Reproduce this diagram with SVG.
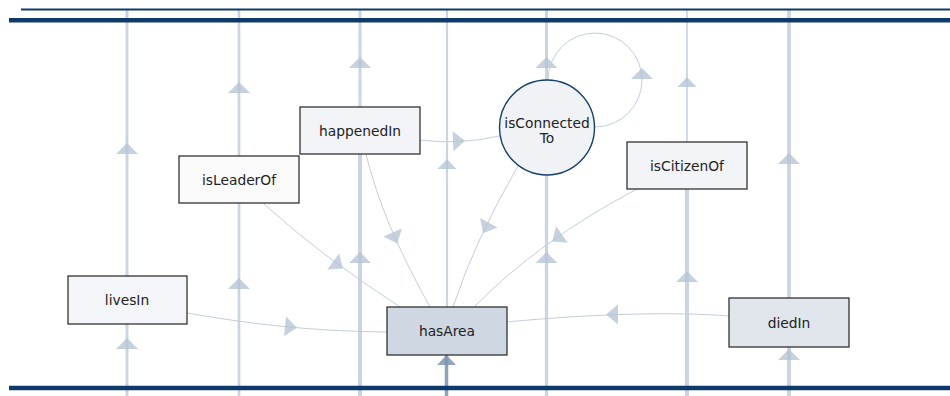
<svg xmlns="http://www.w3.org/2000/svg" xmlns:xlink="http://www.w3.org/1999/xlink" width="950" height="396" viewBox="0 0 950 396">
<style>
.vl{stroke:#cbd5e1;fill:none}
.vd{stroke:#8ea3bc;fill:none}
.tri{fill:#b3c2d3;fill-opacity:0.75}
.trid{fill:#7f96b1;fill-opacity:0.85}
.edge{stroke:#c3cedb;stroke-width:1;fill:none}
.node rect{stroke:#222;stroke-width:1.2}
.node text{font-family:"DejaVu Sans","Liberation Sans",sans-serif;font-size:13.8px;fill:#222;text-anchor:middle}
.bar{stroke:#0d3a6b}
</style>
<defs>
<path id="va" d="M0,0 L11,11 L-11,11 Z"/>
<path id="vs" d="M0,0 L9.5,10 L-9.5,10 Z"/>
<path id="ea" d="M6,0 L-6,-10 L-6,10 Z"/>
</defs>
<g id="lifelines">
<line class="vl" x1="127" y1="10" x2="127" y2="276" stroke-width="3"/>
<line class="vl" x1="127" y1="324" x2="127" y2="396" stroke-width="3"/>
<line class="vl" x1="239" y1="10" x2="239" y2="156" stroke-width="2.7"/>
<line class="vl" x1="239" y1="203" x2="239" y2="396" stroke-width="2.7"/>
<line class="vl" x1="360" y1="10" x2="360" y2="107" stroke-width="3"/>
<line class="vl" x1="360" y1="154" x2="360" y2="396" stroke-width="4"/>
<line class="vl" x1="447" y1="10" x2="447" y2="307" stroke-width="2.2"/>
<line class="vd" x1="446.5" y1="355" x2="446.5" y2="396" stroke-width="3.5"/>
<line class="vl" x1="546.5" y1="10" x2="546.5" y2="80" stroke-width="3"/>
<line class="vl" x1="546.5" y1="175" x2="546.5" y2="396" stroke-width="3.3"/>
<line class="vl" x1="687" y1="10" x2="687" y2="142" stroke-width="1.7"/>
<line class="vl" x1="687" y1="189" x2="687" y2="396" stroke-width="4"/>
<line class="vl" x1="789" y1="10" x2="789" y2="298" stroke-width="3.7"/>
<line class="vl" x1="789" y1="347" x2="789" y2="396" stroke-width="4"/>
<use href="#va" class="tri" x="127" y="143"/>
<use href="#va" class="tri" x="127" y="338"/>
<use href="#va" class="tri" x="239" y="82"/>
<use href="#va" class="tri" x="239" y="278"/>
<use href="#va" class="tri" x="360" y="57"/>
<use href="#va" class="tri" x="360" y="252"/>
<use href="#vs" class="tri" x="447" y="159"/>
<use href="#vs" class="trid" x="446.5" y="355"/>
<use href="#va" class="tri" x="546.5" y="57"/>
<use href="#va" class="tri" x="546.5" y="252"/>
<use href="#vs" class="tri" x="687" y="77"/>
<use href="#va" class="tri" x="687" y="271"/>
<use href="#va" class="tri" x="789" y="153"/>
<use href="#va" class="tri" x="789" y="349"/>
</g>
<g id="bars">
<line class="bar" x1="21" y1="9.5" x2="950" y2="9.5" stroke-width="2"/>
<line class="bar" x1="9" y1="20.3" x2="950" y2="20.3" stroke-width="4.6"/>
<line class="bar" x1="9" y1="388" x2="950" y2="388" stroke-width="4.6"/>
</g>
<g id="connectors">
<path class="edge" d="M187,313 C240,322 300,331 387,332"/>
<use href="#ea" class="tri" transform="translate(291,327) rotate(6)"/>
<path class="edge" d="M264,204 Q320,255 400,307"/>
<use href="#ea" class="tri" transform="translate(338,265) rotate(37)"/>
<path class="edge" d="M366,154 C375,190 390,235 430,307"/>
<use href="#ea" class="tri" transform="translate(395,238) rotate(67)"/>
<path class="edge" d="M518,166 Q475,240 453,307"/>
<use href="#ea" class="tri" transform="translate(486,228) rotate(118)"/>
<path class="edge" d="M637,189 Q540,240 474,307"/>
<use href="#ea" class="tri" transform="translate(557,238) rotate(145)"/>
<path class="edge" d="M729,316 C680,312 600,313 507,322" stroke-width="2.2"/>
<use href="#ea" class="tri" transform="translate(612,314.5) rotate(180)"/>
<path class="edge" d="M420,140 Q460,145 499,136"/>
<use href="#ea" class="tri" transform="translate(459,141) rotate(-2)"/>
<path class="edge" d="M548,80 A47,47 0 1,1 595,127" stroke-width="2.4" stroke="#c6d1de"/>
<use href="#va" class="tri" x="642" y="68"/>
</g>
<g id="livesIn" class="node"><rect x="68" y="276" width="119" height="48" fill="#f4f5f8"/><text x="127" y="305">livesIn</text></g>
<g id="isLeaderOf" class="node"><rect x="179" y="156" width="120" height="47" fill="#fafafb"/><text x="239" y="184.5">isLeaderOf</text></g>
<g id="happenedIn" class="node"><rect x="300" y="107" width="120" height="47" fill="#f3f4f7"/><text x="360" y="135.5">happenedIn</text></g>
<g id="isConnectedTo" class="node"><circle cx="547" cy="127.5" r="47.5" fill="#f0f2f6" stroke="#133f6e" stroke-width="1.4"/><text x="547" y="128">isConnected</text><text x="547" y="143">To</text></g>
<g id="isCitizenOf" class="node"><rect x="627" y="142" width="120" height="47" fill="#f3f4f7"/><text x="687" y="170.5">isCitizenOf</text></g>
<g id="hasArea" class="node"><rect x="387" y="307" width="120" height="48" fill="#cfd7e2"/><text x="447" y="336">hasArea</text></g>
<g id="diedIn" class="node"><rect x="729" y="298" width="120" height="49" fill="#e1e5ec"/><text x="789" y="327.5">diedIn</text></g>
</svg>
